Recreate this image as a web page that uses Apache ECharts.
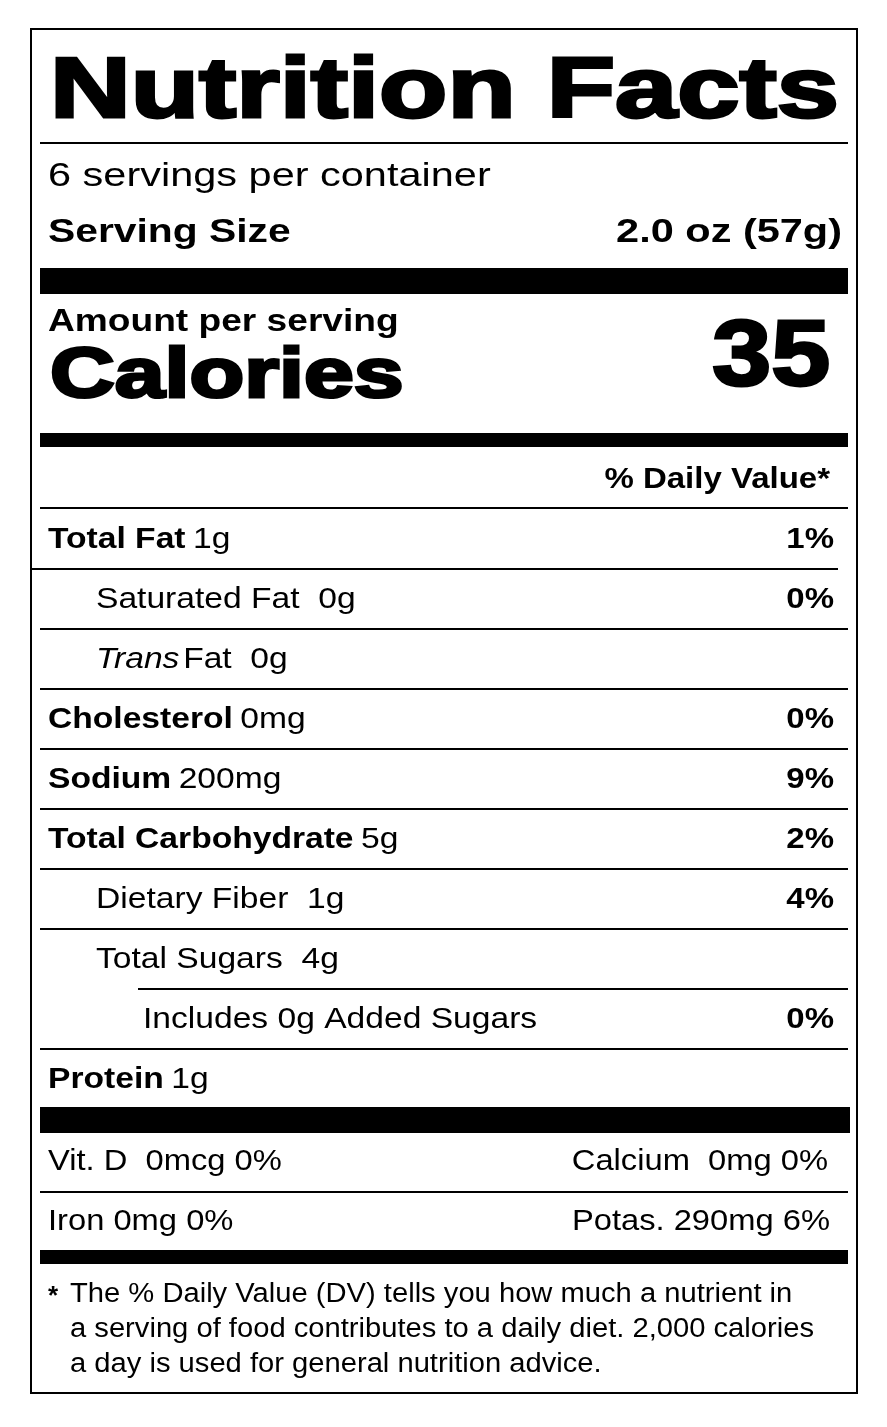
<!DOCTYPE html>
<html>
<head>
<meta charset="utf-8">
<script src="https://cdn.jsdelivr.net/npm/echarts@6/dist/echarts.min.js"></script>
<style>
  html, body { margin: 0; padding: 0; background: #fff; }
  #label { width: 887px; height: 1427px; }
</style>
</head>
<body>
<div id="label"></div>
<script>
    // label data
    var servings = '6 servings per container';
    var servingSize = '2.0 oz (57g)';
    var calories = '35';
    var nutrients = ['Total Fat', 'Saturated Fat', 'Trans Fat', 'Cholesterol', 'Sodium',
        'Total Carbohydrate', 'Dietary Fiber', 'Total Sugars', 'Includes 0g Added Sugars', 'Protein'];
    var amounts = ['1g', '0g', '0g', '0mg', '200mg', '5g', '1g', '4g', '', '1g'];
    var dailyValues = ['1%', '0%', '', '0%', '9%', '2%', '4%', '', '0%', ''];
    var indents = [0, 1, 1, 0, 0, 0, 1, 1, 2, 0];
    var vitaminsLeft = ['Vit. D  0mcg 0%', 'Iron 0mg 0%'];
    var vitaminsRight = ['Calcium  0mg 0%', 'Potas. 290mg 6%'];
    var footnote = [
        'The % Daily Value (DV) tells you how much a nutrient in',
        'a serving of food contributes to a daily diet. 2,000 calories',
        'a day is used for general nutrition advice.'
    ];

    initLabel();

    function initLabel() {
        var chartDom = document.getElementById('label');
        var myChart = echarts.init(chartDom);
        var F = 'Liberation Sans, Arial, sans-serif';
        var L = 40, R = 848;
        var g = [];

        function rect(x, y, w, h) {
            g.push({ type: 'rect', shape: { x: x, y: y, width: w, height: h }, style: { fill: '#000' } });
        }
        function text(x, y, t, size, weight, align, sx, stroke) {
            var st = { text: t, font: (weight || 'normal') + ' ' + size + 'px ' + F,
                fill: '#000', textAlign: align || 'left', textVerticalAlign: 'middle' };
            if (stroke) { st.stroke = '#000'; st.lineWidth = stroke; }
            g.push({ type: 'text', x: x, y: y, scaleX: sx || 1, style: st });
        }

        // border
        g.push({ type: 'rect', shape: { x: 31, y: 29, width: 826, height: 1364 },
            style: { fill: 'none', stroke: '#000', lineWidth: 2 } });

        text(50, 93, 'Nutrition Facts', 86, '900', 'left', 1.3, 3);
        rect(L, 142, R - L, 2);
        text(48, 177, servings, 34, 'normal', 'left', 1.22);
        text(48, 233, 'Serving Size', 34, 'bold', 'left', 1.2);
        text(842, 233, servingSize, 34, 'bold', 'right', 1.22);
        rect(L, 268, R - L, 26);
        text(48, 322, 'Amount per serving', 32, 'bold', 'left', 1.16);
        text(50, 378, 'Calories', 70, '900', 'left', 1.28, 3);
        text(830, 360, calories, 92, '900', 'right', 1.15, 3);
        rect(L, 433, R - L, 14);
        text(830, 480, '% Daily Value*', 30, 'bold', 'right', 1.1);
        rect(L, 507, R - L, 2);

        var xs = [48, 96, 143];
        nutrients.forEach(function (name, i) {
            var y = 540 + i * 60;
            var lvl = indents[i];
            var rich;
            if (name === 'Trans Fat') {
                rich = '{i|Trans} {n|Fat  ' + amounts[i] + '}';
            } else if (lvl === 0) {
                rich = '{b|' + name + '}  {n|' + amounts[i] + '}';
            } else {
                rich = '{n|' + name + (amounts[i] ? '  ' + amounts[i] : '') + '}';
            }
            g.push({
                type: 'text', x: xs[lvl], y: y, scaleX: 1.12,
                style: {
                    text: rich, textVerticalAlign: 'middle', fill: '#000',
                    rich: {
                        b: { font: 'bold 30px ' + F, fill: '#000' },
                        n: { font: 'normal 30px ' + F, fill: '#000' },
                        i: { font: 'italic 30px ' + F, fill: '#000' }
                    }
                }
            });
            if (dailyValues[i]) text(834, y, dailyValues[i], 30, 'bold', 'right', 1.1);
            if (i < nutrients.length - 1) {
                var ly = y + 28;
                if (i === 0) rect(31, ly, 807, 2);
                else if (i === 7) rect(138, ly, R - 138, 2);
                else rect(L, ly, R - L, 2);
            }
        });

        rect(L, 1107, R - L + 2, 26);
        text(48, 1162, vitaminsLeft[0], 30, 'normal', 'left', 1.09);
        text(828, 1162, vitaminsRight[0], 30, 'normal', 'right', 1.09);
        rect(L, 1191, R - L, 2);
        text(48, 1222, vitaminsLeft[1], 30, 'normal', 'left', 1.09);
        text(830, 1222, vitaminsRight[1], 30, 'normal', 'right', 1.09);
        rect(L, 1250, R - L, 14);

        text(48, 1297, '*', 26, 'bold');
        footnote.forEach(function (t, i) {
            text(70, 1295 + i * 35, t, 27, 'normal', 'left', 1.08);
        });

        var option = { animation: false, graphic: { elements: g } };
        option && myChart.setOption(option);
    }
</script>
</body>
</html>
